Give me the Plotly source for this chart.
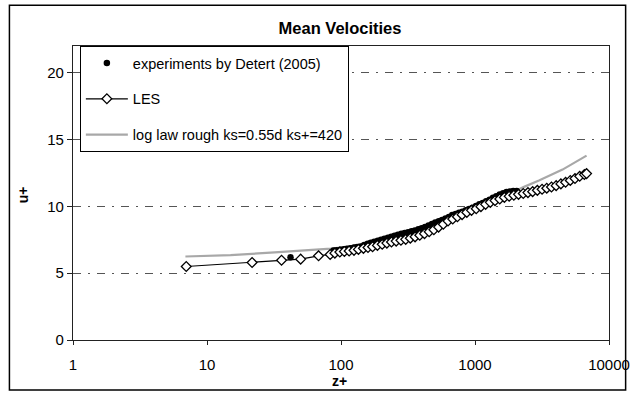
import plotly.graph_objects as go

# ---- data ----
exp_z = [42, 88, 93, 99, 105, 111, 118, 125, 132, 140, 149, 158, 167, 177, 188, 199, 211, 224,
         237, 251, 266, 282, 299, 317, 336, 356, 378, 400, 424, 450, 477, 505, 536, 568, 602,
         638, 676, 717, 760, 805, 854, 905, 959, 1017, 1078, 1142, 1211, 1284, 1361, 1442,
         1529, 1621, 1718, 1821, 1930, 2046]
exp_u = [6.2, 6.7, 6.72, 6.76, 6.8, 6.83, 6.87, 6.92, 6.95, 7.0, 7.1, 7.2, 7.28, 7.35, 7.42, 7.5,
         7.57, 7.65, 7.72, 7.8, 7.88, 7.95, 8.0, 8.07, 8.14, 8.2, 8.28, 8.36, 8.46, 8.56, 8.68,
         8.79, 8.88, 8.98, 9.1, 9.2, 9.35, 9.43, 9.52, 9.6, 9.7, 9.8, 9.9, 10.02, 10.15, 10.25,
         10.38, 10.5, 10.65, 10.75, 10.88, 10.98, 11.08, 11.12, 11.15, 11.15]

les_z = [7.0, 21.7, 36, 50, 68, 83, 90, 98, 106, 115, 125, 135, 147, 159, 172, 187, 203, 220,
         238, 258, 280, 304, 329, 357, 387, 420, 455, 493, 535, 580, 629, 682, 739, 801, 869,
         942, 1021, 1107, 1200, 1301, 1411, 1530, 1658, 1798, 1949, 2113, 2291, 2484, 2693,
         2920, 3166, 3432, 3721, 4034, 4374, 4742, 5141, 5574, 6043, 6551, 6800]
les_u = [5.5, 5.8, 5.97, 6.05, 6.3, 6.4, 6.5, 6.58, 6.62, 6.66, 6.71, 6.78, 6.86, 6.92, 6.98,
         7.08, 7.16, 7.25, 7.33, 7.4, 7.46, 7.53, 7.62, 7.72, 7.84, 7.96, 8.1, 8.25, 8.45, 8.66,
         8.9, 9.05, 9.22, 9.38, 9.55, 9.7, 9.82, 9.98, 10.15, 10.3, 10.43, 10.55, 10.67, 10.76,
         10.83, 10.9, 10.96, 11.03, 11.1, 11.2, 11.28, 11.36, 11.45, 11.55, 11.68, 11.8, 11.94,
         12.08, 12.25, 12.38, 12.45]

log_z = [6.9, 15, 32, 60, 84, 120, 200, 300, 500, 800, 1200, 1700, 2300, 3000, 4500, 6800]
log_u = [6.25, 6.35, 6.55, 6.72, 6.84, 7.0, 7.4, 7.85, 8.6, 9.4, 10.1, 10.8, 11.44, 11.94, 12.75, 13.8]

x_ticks = [1, 10, 100, 1000, 10000]
y_ticks = [0, 5, 10, 15, 20]

FONT = "Liberation Sans, Arial, sans-serif"

fig = go.Figure()

fig.add_trace(go.Scatter(
    x=log_z, y=log_u, mode="lines", name="log law rough ks=0.55d ks+=420",
    line=dict(color="#a8a8a8", width=2.2), legendrank=3, legendgroup="c"))

fig.add_trace(go.Scatter(
    x=exp_z, y=exp_u, mode="markers", name="experiments by Detert (2005)",
    marker=dict(symbol="circle", size=6.5, color="black"), legendrank=1, legendgroup="a"))

fig.add_trace(go.Scatter(
    x=les_z, y=les_u, mode="lines+markers", name="LES",
    line=dict(color="black", width=1.2),
    marker=dict(symbol="diamond", size=7.5, color="white", line=dict(color="black", width=1.3)),
    legendrank=2, legendgroup="b"))

fig.update_layout(
    width=642, height=395,
    margin=dict(l=73, r=21, t=46, b=55),
    paper_bgcolor="white", plot_bgcolor="white",
    font=dict(family=FONT, size=14.5, color="black"),
    title=dict(text="<b>Mean Velocities</b>", x=340 / 642, xanchor="center",
               y=1 - 28 / 395, yanchor="middle", font=dict(size=16.5, family=FONT)),
    legend=dict(x=0.0128, y=1.0, xanchor="left", yanchor="top",
                bgcolor="white", bordercolor="black", borderwidth=1,
                font=dict(size=14.5, family=FONT), tracegroupgap=14,
                itemwidth=42),
    showlegend=True,
)

fig.update_xaxes(
    type="log", range=[0, 4], tickvals=x_ticks, ticktext=[str(v) for v in x_ticks],
    showgrid=False, zeroline=False,
    showline=True, linecolor="#222", linewidth=1.3, mirror=True,
    ticks="outside", ticklen=4, tickcolor="#222", ticklabelstandoff=7,
    tickfont=dict(size=15, family=FONT),
)
fig.update_yaxes(
    range=[0, 22], tickvals=y_ticks,
    showgrid=True, gridcolor="#555", gridwidth=1, griddash="8px,7px,2px,7px",
    zeroline=False,
    showline=True, linecolor="#222", linewidth=1.3, mirror=True,
    ticks="outside", ticklen=5, tickcolor="#222",
    tickfont=dict(size=15, family=FONT),
)

# axis titles
fig.add_annotation(text="<b>z+</b>", xref="paper", yref="paper",
                   x=(345 - 73) / 548, y=-(381 - 340) / 294.3, showarrow=False,
                   font=dict(size=14, family=FONT), xanchor="center", yanchor="middle")
fig.add_annotation(text="<b>u+</b>", xref="paper", yref="paper",
                   x=(22 - 73) / 548, y=(340 - 195) / 294.3, showarrow=False, textangle=-90,
                   font=dict(size=14, family=FONT), xanchor="center", yanchor="middle")

# outer chart frame
fig.add_shape(type="rect", xref="paper", yref="paper",
              x0=(8 - 73) / 548, x1=(638 - 73) / 548,
              y0=-(390 - 340) / 294.3, y1=(340 - 5) / 294.3,
              line=dict(color="black", width=1.5), layer="below")

fig.write_html("out.html", config={"displayModeBar": False},
               post_script="document.body.style.margin='0';")
